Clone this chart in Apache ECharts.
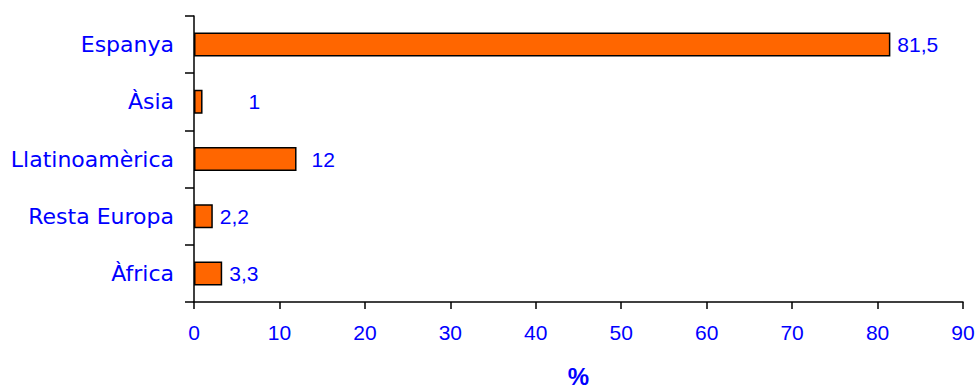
<!DOCTYPE html>
<html>
<head>
<meta charset="utf-8">
<script src="https://cdn.jsdelivr.net/npm/echarts@6/dist/echarts.min.js"></script>
<style>
  html, body { margin: 0; padding: 0; background: #fff; }
  #chart { width: 977px; height: 390px; }
</style>
</head>
<body>
<div id="chart"></div>
<script>
// Origin of residents, share in percent (top to bottom as drawn)
const categories = ['Espanya', 'Àsia', 'Llatinoamèrica', 'Resta Europa', 'Àfrica'];
const shares = [81.5, 1, 12, 2.2, 3.3];
const axisTicks = [0, 10, 20, 30, 40, 50, 60, 70, 80, 90];

// Some value labels sit further from their bar end
const labelGap = { 'Àsia': 46, 'Llatinoamèrica': 15 };

const blue = '#0000ff';
const numFont = 'Liberation Sans';

const chart = echarts.init(document.getElementById('chart'), null, { renderer: 'svg' });

// Category axis runs bottom-up in ECharts, so feed it reversed
const cats = categories.slice().reverse();
const vals = shares.slice().reverse();

chart.setOption({
  animation: false,
  grid: { left: 194, right: 14, top: 16, bottom: 88, containLabel: false, outerBoundsMode: 'none' },
  xAxis: {
    type: 'value',
    min: axisTicks[0],
    max: axisTicks[axisTicks.length - 1],
    interval: axisTicks[1] - axisTicks[0],
    name: '%',
    nameLocation: 'middle',
    nameGap: 63,
    nameTextStyle: { color: blue, fontSize: 24, fontWeight: 'bold', fontFamily: numFont, verticalAlign: 'top', lineHeight: 22 },
    axisLine: { show: true, lineStyle: { color: '#000', width: 1.5 } },
    axisTick: { show: true, inside: false, length: 7, lineStyle: { color: '#000', width: 1.5 } },
    axisLabel: { color: blue, fontSize: 21, fontFamily: numFont, margin: 20 },
    splitLine: { show: false }
  },
  yAxis: {
    type: 'category',
    data: cats,
    axisLine: { show: true, lineStyle: { color: '#000', width: 1.5 } },
    axisTick: { show: true, inside: false, length: 9, alignWithLabel: false, lineStyle: { color: '#000', width: 1.5 } },
    axisLabel: { color: blue, fontSize: 22, fontFamily: 'DejaVu Sans', margin: 20 },
    splitLine: { show: false }
  },
  series: [{
    type: 'bar',
    barWidth: 24,
    data: vals.map((v, i) => {
      const item = { value: v };
      if (labelGap[cats[i]] !== undefined) item.label = { distance: labelGap[cats[i]] };
      return item;
    }),
    itemStyle: { color: '#ff6600', borderColor: '#000', borderWidth: 1.5 },
    label: {
      show: true,
      position: 'right',
      distance: 7,
      color: blue,
      fontSize: 21,
      fontFamily: numFont,
      formatter: p => String(p.value).replace('.', ',')
    }
  }]
});
</script>
</body>
</html>
